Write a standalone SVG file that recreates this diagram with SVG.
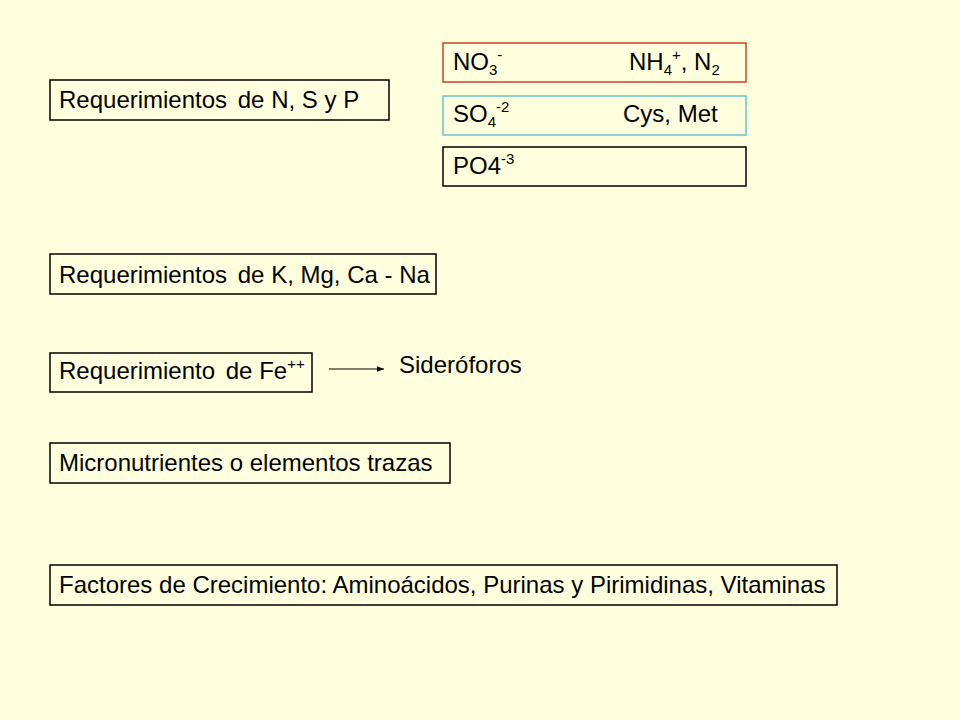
<svg xmlns="http://www.w3.org/2000/svg" width="960" height="720" viewBox="0 0 960 720">
<defs>
<style>
.t{font-family:"Liberation Sans",Arial,sans-serif;font-size:24px;fill:#000}
.b{fill:none;stroke:#000;stroke-width:1.5}
.sub{font-size:15px}
</style>
<marker id="ah" viewBox="0 0 10 10" refX="10" refY="5" markerWidth="7" markerHeight="7" orient="auto" markerUnits="userSpaceOnUse"><path d="M0,1 L10,5 L0,9 z" fill="#000"/></marker>
</defs>
<rect width="960" height="720" fill="#ffffdd"/>
<g id="n-nsp"><rect class="b" x="50" y="80" width="339" height="40"/><text class="t" x="59" y="108">Requerimientos<tspan dx="4"> de N, S y P</tspan></text></g>
<g id="n-no3"><rect class="b" x="443" y="43" width="303" height="39" style="stroke:#d04020"/><text class="t" x="453" y="70">NO<tspan class="sub" dy="5">3</tspan><tspan class="sub" dy="-15">-</tspan><tspan dy="10" x="629">NH</tspan><tspan class="sub" dy="5">4</tspan><tspan class="sub" dy="-15">+</tspan><tspan dy="10">, N</tspan><tspan class="sub" dy="5">2</tspan></text></g>
<g id="n-so4"><rect class="b" x="443" y="96" width="303" height="39" style="stroke:#60c8c8"/><text class="t" x="453" y="122">SO<tspan class="sub" dy="5">4</tspan><tspan class="sub" dy="-15">-2</tspan><tspan dy="10" x="623">Cys, Met</tspan></text></g>
<g id="n-po4"><rect class="b" x="443" y="147" width="303" height="39"/><text class="t" x="453" y="174">PO4<tspan class="sub" dy="-10">-3</tspan></text></g>
<g id="n-kmg"><rect class="b" x="50" y="254" width="386" height="40"/><text class="t" x="59" y="283">Requerimientos<tspan dx="4"> de K, Mg, Ca - Na</tspan></text></g>
<g id="n-fe"><rect class="b" x="50" y="353" width="262" height="39"/><text class="t" x="59" y="379">Requerimiento<tspan dx="4"> de Fe</tspan><tspan class="sub" dy="-10">++</tspan></text></g>
<g id="n-sid"><text class="t" x="399" y="373">Sideróforos</text></g>
<g id="n-micro"><rect class="b" x="50" y="443" width="400" height="40"/><text class="t" x="59" y="471">Micronutrientes o elementos trazas</text></g>
<g id="n-fact"><rect class="b" x="50" y="565" width="787" height="40"/><text class="t" x="59" y="593">Factores de Crecimiento: Aminoácidos, Purinas y Pirimidinas, Vitaminas</text></g>
<g id="connectors"><line x1="329" y1="369" x2="384" y2="369" stroke="#000" stroke-width="1.2" marker-end="url(#ah)"/></g>
</svg>
